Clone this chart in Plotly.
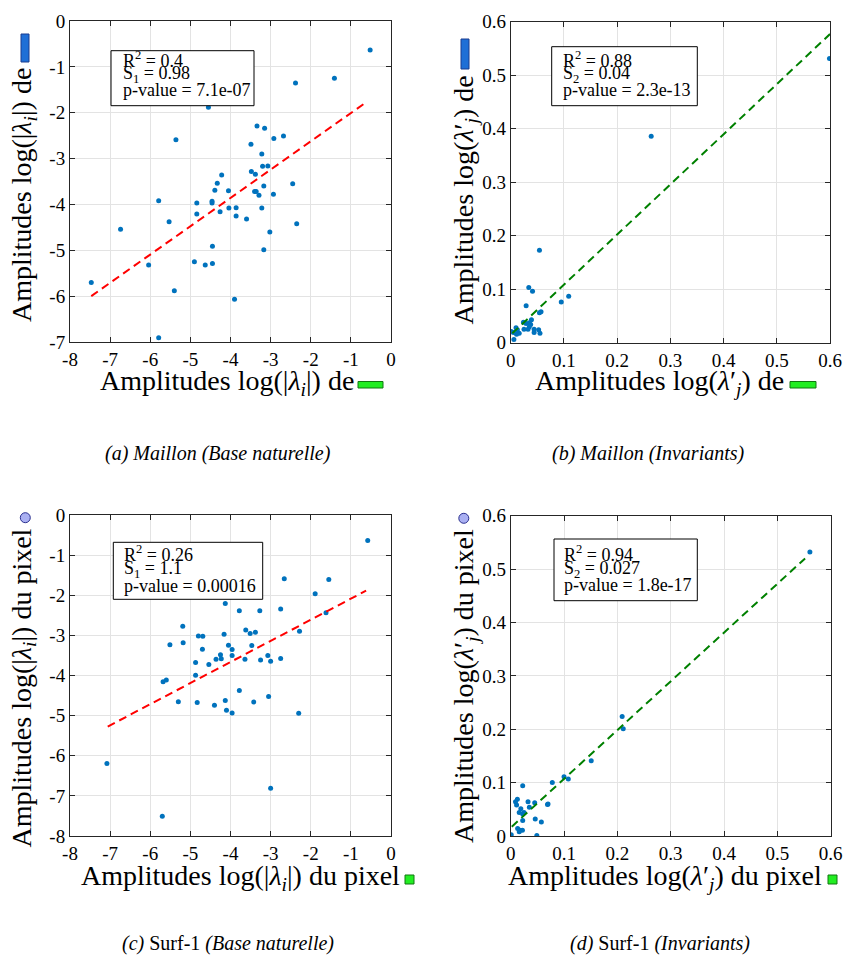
import plotly.graph_objects as go

# ---- data ----
# (a) Maillon, base naturelle
a_x = [-0.52, -2.38, -1.41, -4.55, -3.34, -3.15, -5.36, -2.92, -2.68, -3.49,
       -3.22, -3.20, -3.07, -3.48, -3.38, -4.22, -4.33, -2.45, -3.17, -4.39,
       -4.05, -3.40, -3.36, -3.29, -2.93, -5.79, -4.46, -4.46, -4.84, -4.04,
       -3.86, -3.22, -4.84, -4.26, -3.86, -3.60, -5.53, -2.35, -6.74, -3.02,
       -4.45, -3.17, -4.90, -4.63, -4.45, -6.04, -7.47, -5.40, -3.90, -5.79]
a_y = [-0.63, -1.35, -1.25, -1.88, -2.29, -2.34, -2.59, -2.56, -2.51, -2.69,
       -2.90, -3.17, -3.16, -3.28, -3.34, -3.36, -3.54, -3.55, -3.60, -3.69,
       -3.70, -3.72, -3.72, -3.80, -3.78, -3.92, -3.93, -3.97, -3.97, -4.08,
       -4.07, -4.08, -4.21, -4.16, -4.25, -4.32, -4.38, -4.42, -4.54, -4.60,
       -4.91, -4.99, -5.25, -5.32, -5.29, -5.32, -5.70, -5.88, -6.07, -6.91]
a_fit_x = [-7.47, -0.60]
a_fit_y = [-6.00, -1.76]
a_stats = ["R<sup>2</sup> = 0.4", "S<sub>1</sub> = 0.98", "p-value = 7.1e-07"]

# (b) Maillon, invariants
b_x = [0.599, 0.264, 0.054, 0.034, 0.041, 0.029, 0.095, 0.109, 0.057, 0.054,
       0.039, 0.035, 0.024, 0.029, 0.0375, 0.035, 0.025, 0.0325, 0.044, 0.044,
       0.0525, 0.055, 0.010, 0.0125, 0.016, 0.011, 0.005, 0.001, 0.006]
b_y = [0.531, 0.386, 0.173, 0.103, 0.096, 0.069, 0.076, 0.087, 0.058, 0.056,
       0.043, 0.0375, 0.038, 0.036, 0.034, 0.030, 0.025, 0.025, 0.025, 0.019,
       0.024, 0.0175, 0.028, 0.024, 0.0175, 0.016, 0.019, 0.021, 0.006]
b_fit_x = [0.003, 0.600]
b_fit_y = [0.0175, 0.577]
b_stats = ["R<sup>2</sup> = 0.88", "S<sub>2</sub> = 0.04", "p-value = 2.3e-13"]

# (c) Surf-1, base naturelle
c_x = [-0.58, -2.66, -1.55, -1.89, -1.62, -4.13, -3.78, -3.27, -2.75, -5.19,
       -3.62, -3.51, -3.38, -2.28, -4.80, -4.69, -4.16, -5.51, -5.18, -4.70,
       -4.05, -3.96, -3.47, -4.25, -4.23, -4.36, -3.96, -3.64, -3.07, -3.25,
       -3.00, -2.75, -4.87, -4.54, -4.87, -5.68, -5.60, -3.78, -3.05, -5.30,
       -4.83, -3.42, -4.13, -4.40, -4.10, -3.96, -2.30, -7.08, -3.00, -5.70]
c_y = [-0.63, -1.58, -1.60, -1.96, -2.43, -2.20, -2.38, -2.38, -2.34, -2.77,
       -2.86, -2.95, -2.92, -2.89, -3.01, -3.02, -2.97, -3.23, -3.18, -3.34,
       -3.24, -3.35, -3.25, -3.48, -3.58, -3.59, -3.50, -3.59, -3.50, -3.61,
       -3.64, -3.57, -3.67, -3.72, -3.99, -4.15, -4.11, -4.37, -4.52, -4.65,
       -4.67, -4.66, -4.62, -4.74, -4.86, -4.93, -4.94, -6.19, -6.81, -7.51]
c_fit_x = [-7.06, -0.62]
c_fit_y = [-5.27, -1.88]
c_stats = ["R<sup>2</sup> = 0.26", "S<sub>1</sub> = 1.1", "p-value = 0.00016"]

# (d) Surf-1, invariants
d_x = [0.561, 0.209, 0.211, 0.151, 0.100, 0.108, 0.078, 0.0225, 0.069, 0.0125,
       0.009, 0.011, 0.019, 0.016, 0.0225, 0.025, 0.0325, 0.045, 0.035, 0.070,
       0.0225, 0.046, 0.0575, 0.013, 0.0175, 0.022, 0.016, 0.001, 0.049]
d_y = [0.532, 0.224, 0.201, 0.141, 0.111, 0.107, 0.100, 0.094, 0.059, 0.069,
       0.064, 0.058, 0.051, 0.044, 0.041, 0.044, 0.064, 0.0625, 0.054, 0.060,
       0.029, 0.032, 0.026, 0.014, 0.011, 0.011, 0.008, 0.0025, 0.001]
d_fit_x = [0.002, 0.552]
d_fit_y = [0.0175, 0.520]
d_stats = ["R<sup>2</sup> = 0.94", "S<sub>2</sub> = 0.027", "p-value = 1.8e-17"]

log_ticks = [0, -1, -2, -3, -4, -5, -6, -7, -8]
log_labels = ["0", "-1", "-2", "-3", "-4", "-5", "-6", "-7", "-8"]
inv_ticks = [0, 0.1, 0.2, 0.3, 0.4, 0.5, 0.6]
inv_labels = ["0", "0.1", "0.2", "0.3", "0.4", "0.5", "0.6"]

W, H = 850, 961
SERIF = "Liberation Serif"
BLUE = "#0072BD"


def px(x):
    return x / W


def py(y):
    return 1 - y / H


fig = go.Figure()

panels = [
    # x data, y data, fit x, fit y, fit colour, axis suffix
    (a_x, a_y, a_fit_x, a_fit_y, "#ff0000", ""),
    (b_x, b_y, b_fit_x, b_fit_y, "#008000", "2"),
    (c_x, c_y, c_fit_x, c_fit_y, "#ff0000", "3"),
    (d_x, d_y, d_fit_x, d_fit_y, "#008000", "4"),
]
for xs, ys, fx, fy, col, s in panels:
    fig.add_trace(go.Scatter(x=xs, y=ys, mode="markers", xaxis="x" + s, yaxis="y" + s,
                             marker=dict(size=5, color=BLUE), showlegend=False))
    fig.add_trace(go.Scatter(x=fx, y=fy, mode="lines", xaxis="x" + s, yaxis="y" + s,
                             line=dict(color=col, width=2, dash="8px,5px"), showlegend=False))

axis_style = dict(
    showline=True, linecolor="#262626", linewidth=1, mirror="allticks",
    ticks="inside", ticklen=5, tickcolor="#262626", automargin=False,
    showgrid=True, gridcolor="#e3e3e3", gridwidth=1, zeroline=False,
    tickfont=dict(family=SERIF, size=19, color="#000"),
)

# domains measured in pixels (left, right, top, bottom)
doms = {
    "": (70, 391, 21, 342),
    "2": (510.7, 830, 21.7, 342.7),
    "3": (70, 391, 515.3, 836),
    "4": (510.7, 830.7, 515.7, 836),
}
ranges = {
    "": ([-8, 0], [-7, 0], log_ticks, log_labels),
    "2": ([0, 0.6], [0, 0.6], inv_ticks, inv_labels),
    "3": ([-8, 0], [-8, 0], log_ticks, log_labels),
    "4": ([0, 0.6], [0, 0.6], inv_ticks, inv_labels),
}
layout_axes = {}
for s, (l, r, t, b) in doms.items():
    xr, yr, tv, tt = ranges[s]
    layout_axes["xaxis" + s] = dict(axis_style, domain=[px(l), px(r)], range=xr,
                                    tickvals=tv, ticktext=tt, anchor="y" + s)
    layout_axes["yaxis" + s] = dict(axis_style, domain=[py(b), py(t)], range=yr,
                                    tickvals=tv, ticktext=tt, anchor="x" + s)

annotations = []
shapes = []


def text(x, y, s, size=28, angle=0, xanchor="center", yanchor="middle"):
    annotations.append(dict(x=px(x), y=py(y), xref="paper", yref="paper", text=s,
                            showarrow=False, textangle=angle, xanchor=xanchor, yanchor=yanchor,
                            font=dict(family=SERIF, size=size, color="#000")))


# statistics boxes
boxes = [
    (a_stats, (111, 254, 50.7, 105.7), 121, [59.5, 75, 90.5]),
    (b_stats, (551.7, 697.3, 46.7, 105.7), 561, [59.5, 75, 90.5]),
    (c_stats, (113.3, 262.7, 542.3, 599.3), 121.7, [553.5, 569.5, 585.5]),
    (d_stats, (554, 697.3, 539, 600.7), 561.7, [553, 569, 585]),
]
for lines, (l, r, t, b), tx, ly in boxes:
    shapes.append(dict(type="rect", xref="paper", yref="paper", x0=px(l), x1=px(r),
                       y0=py(b), y1=py(t), line=dict(color="#000", width=1), fillcolor="white",
                       layer="above"))
    for s, y in zip(lines, ly):
        text(tx, y, s, size=18, xanchor="left")

lam_i = "log(|<i>λ</i><sub><i>i</i></sub>|)"
lam_j = "log(<i>λ</i>′<sub><i>j</i></sub>)"

# axis titles (anchored against their little icons)
text(356, 382, "Amplitudes " + lam_i + " de", xanchor="right")
text(23, 66, "Amplitudes " + lam_i + " de", angle=-90, yanchor="top")
text(786, 382, "Amplitudes " + lam_j + " de", xanchor="right")
text(465, 74, "Amplitudes " + lam_j + " de", angle=-90, yanchor="top")
text(402, 877, "Amplitudes " + lam_i + " du pixel", xanchor="right")
text(23, 527, "Amplitudes " + lam_i + " du pixel", angle=-90, yanchor="top")
text(824, 877, "Amplitudes " + lam_j + " du pixel", xanchor="right")
text(465, 527, "Amplitudes " + lam_j + " du pixel", angle=-90, yanchor="top")

# captions
text(218, 453, "<i>(a) Maillon (Base naturelle)</i>", size=20)
text(648, 453, "<i>(b) Maillon (Invariants)</i>", size=20)
text(228, 943, "<i>(c)</i> Surf-1 <i>(Base naturelle)</i>", size=20)
text(660, 943, "<i>(d)</i> Surf-1 <i>(Invariants)</i>", size=20)


# little icons in the axis titles
def rect(l, r, t, b, fill, edge):
    shapes.append(dict(type="rect", xref="paper", yref="paper", x0=px(l), x1=px(r),
                       y0=py(b), y1=py(t), fillcolor=fill, line=dict(color=edge, width=1)))


def circle(cx, cy, rad, fill, edge):
    shapes.append(dict(type="circle", xref="paper", yref="paper", x0=px(cx - rad), x1=px(cx + rad),
                       y0=py(cy + rad), y1=py(cy - rad), fillcolor=fill, line=dict(color=edge, width=1)))


rect(21, 29, 34, 62, "#1f6fd6", "#1a3d8f")
rect(461, 469, 39, 69, "#1f6fd6", "#1a3d8f")
rect(358, 383, 381.5, 388, "#22ee22", "#117711")
rect(790, 816, 381.5, 388, "#22ee22", "#117711")
circle(25.3, 517.7, 5, "#aab0f2", "#2a2f8f")
circle(463.8, 518.3, 5, "#aab0f2", "#2a2f8f")
rect(405, 414, 875, 884, "#22ee22", "#117711")
rect(828, 837, 875, 884, "#22ee22", "#117711")

fig.update_layout(
    width=W, height=H,
    margin=dict(l=0, r=0, t=0, b=0, autoexpand=False),
    paper_bgcolor="white", plot_bgcolor="white",
    annotations=annotations, shapes=shapes,
    **layout_axes,
)

# the page body has a default 8px margin; drop it so the figure sits at the corner
fig.write_html("out.html", config={"displayModeBar": False},
               post_script="document.body.style.margin = '0px';")
